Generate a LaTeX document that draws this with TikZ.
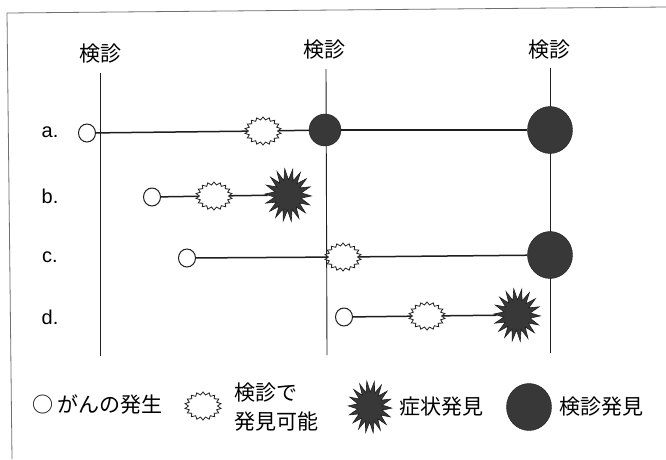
\documentclass[tikz,border=0pt]{standalone}
\usepackage{fontspec}
\setmainfont{Noto Sans CJK JP}
\newfontfamily\lat{Liberation Sans}
\usetikzlibrary{shapes.geometric}
\definecolor{ink}{HTML}{1E1E1E}
\definecolor{shade}{HTML}{383838}
\definecolor{framec}{HTML}{707070}
\begin{document}
\begin{tikzpicture}[x=1pt,y=-1pt,
  vline/.style={draw=ink, line width=0.9pt},
  conn/.style={draw=ink, line width=1.5pt},
  framel/.style={draw=framec, line width=0.8pt},
  onset/.style={ellipse, draw=ink, line width=1pt, fill=white, minimum width=17pt, minimum height=18pt, inner sep=0pt},
  wstar/.style={star, star points=18, star point ratio=1.25, draw=ink, line width=0.8pt, fill=white, minimum size=28pt, inner sep=0pt, xscale=1.3, transform shape},
  bstar/.style={star, star points=18, star point ratio=1.75, draw=ink, line width=0.6pt, fill=shade, minimum size=53pt, inner sep=0pt, xscale=0.88, rotate=8, transform shape},
  sdot/.style={circle, draw=ink, fill=shade, minimum size=32pt, inner sep=0pt},
  bdot/.style={ellipse, draw=ink, fill=shade, minimum width=45pt, minimum height=47pt, inner sep=0pt},
  jp/.style={font=\fontsize{21}{29}\selectfont, inner sep=0pt},
  rowlab/.style={font=\lat\fontsize{20}{24}\selectfont, inner sep=0pt}
]
\useasboundingbox (0,0) rectangle (666,459);
\fill[white] (0,0) rectangle (666,459);
% frame (top and left edges)
\coordinate (f1) at (7,13);
\coordinate (f2) at (666,7);
\coordinate (f3) at (12,459);
\draw[framel] (f2) -- (f1) -- (f3);
% exam labels and vertical lines
\node[jp] (k1) at (100,54) {検診};
\node[jp] (k2) at (324,50) {検診};
\node[jp] (k3) at (549,50) {検診};
\coordinate (v1t) at (100,73);  \coordinate (v1b) at (100,356);
\coordinate (v2t) at (326,69);  \coordinate (v2b) at (327,355);
\coordinate (v3t) at (550,68);  \coordinate (v3b) at (550,353);
\draw[vline] (v1t) -- (v1b);
\draw[vline] (v2t) -- (v2b);
\draw[vline] (v3t) -- (v3b);
% row a
\node[rowlab] (la) at (50,132) {a.};
\node[onset] (a0) at (87,133) {};
\node[wstar] (a1) at (263,131) {};
\node[sdot] (a2) at (325,130) {};
\node[bdot] (a3) at (550,130) {};
\draw[conn] (a0) -- (a1);
\draw[conn] (a1) -- (a2);
\draw[conn] (a2) -- (a3);
% row b
\node[rowlab] (lb) at (50,196) {b.};
\node[onset] (b0) at (152,197) {};
\node[wstar] (b1) at (214,196) {};
\node[bstar] (b2) at (288,195) {};
\draw[conn] (b0) -- (b1);
\draw[conn] (b1) -- (b2);
% row c
\node[rowlab] (lc) at (50,257) {c.};
\node[onset] (c0) at (187,258) {};
\node[wstar] (c1) at (343,257) {};
\node[bdot] (c2) at (550,255) {};
\draw[conn] (c0) -- (c1);
\draw[conn] (c1) -- (c2);
% row d
\node[rowlab] (ld) at (50,317) {d.};
\node[onset] (d0) at (344,317) {};
\node[wstar] (d1) at (427,316) {};
\node[bstar] (d2) at (517,315) {};
\draw[conn] (d0) -- (d1);
\draw[conn] (d1) -- (d2);
% legend
\node[jp, anchor=west] (l1) at (32,404) {○ がんの発生};
\node[wstar] (l2s) at (203,406) {};
\node[jp, anchor=west, align=left] (l2) at (234,407) {検診で\\発見可能};
\node[bstar, minimum size=52pt, xscale=0.95] (l3s) at (370,407) {};
\node[jp, anchor=west] (l3) at (399,407) {症状発見};
\node[bdot] (l4s) at (529,407) {};
\node[jp, anchor=west] (l4) at (559,407) {検診発見};
\end{tikzpicture}
\end{document}
